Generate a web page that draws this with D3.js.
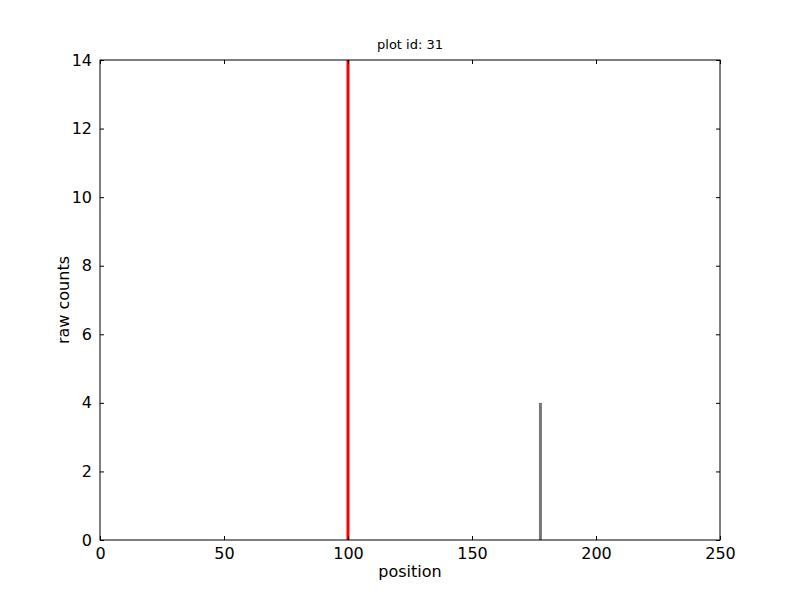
<!DOCTYPE html>
<html><head><meta charset="utf-8">
<script src="https://d3js.org/d3.v7.min.js"></script>
<style>body{margin:0;background:#fff}text{font-family:"DejaVu Sans",sans-serif}</style>
</head><body><svg id="c" width="800" height="600"></svg>
<script>
(function(){
const title = "plot id: 31";
const xTicks = [0, 50, 100, 150, 200, 250];
const yTicks = [0, 2, 4, 6, 8, 10, 12, 14];
const markerPos = [100];
const barPos = [177.6];
const barCounts = [4];

const svg = d3.select("#c");
const m = {l:100, r:720, t:60, b:540};
const x = d3.scaleLinear().domain([0,250]).range([m.l, m.r]);
const y = d3.scaleLinear().domain([0,14]).range([m.b, m.t]);

svg.append("rect").attr("width",800).attr("height",600).attr("fill","#fff");

svg.selectAll(".bar").data(barPos).enter().append("line")
  .attr("x1", d=>x(d)).attr("x2", d=>x(d))
  .attr("y1", y(0)).attr("y2", (d,i)=>y(barCounts[i]))
  .attr("stroke","#777").attr("stroke-width",3);

svg.selectAll(".mk").data(markerPos).enter().append("line")
  .attr("x1", d=>x(d)).attr("x2", d=>x(d))
  .attr("y1", y(0)).attr("y2", y(14))
  .attr("stroke","#ff0000").attr("stroke-width",3);

const fs = 16;
const gB = svg.append("g").attr("transform",`translate(0,${m.b})`)
  .call(d3.axisBottom(x).tickValues(xTicks).tickSize(-4).tickPadding(8).tickFormat(d3.format("d")));
const gT = svg.append("g").attr("transform",`translate(0,${m.t})`)
  .call(d3.axisTop(x).tickValues(xTicks).tickSize(-4).tickFormat(""));
const gL = svg.append("g").attr("transform",`translate(${m.l},0)`)
  .call(d3.axisLeft(y).tickValues(yTicks).tickSize(-4).tickPadding(8).tickFormat(d3.format("d")));
const gR = svg.append("g").attr("transform",`translate(${m.r},0)`)
  .call(d3.axisRight(y).tickValues(yTicks).tickSize(-4).tickFormat(""));
[gB, gT, gL, gR].forEach(g=>{
  g.select(".domain").remove();
  g.selectAll("line").attr("stroke","#000");
  g.selectAll("text").attr("font-size",fs).attr("fill","#000").attr("font-family","DejaVu Sans");
});

svg.append("rect").attr("x",m.l).attr("y",m.t).attr("width",m.r-m.l).attr("height",m.b-m.t)
  .attr("fill","none").attr("stroke","#000").attr("stroke-width",1);

svg.append("text").attr("x",(m.l+m.r)/2).attr("y",49).attr("text-anchor","middle")
  .attr("font-size",13).text(title);
svg.append("text").attr("x",(m.l+m.r)/2).attr("y",577).attr("text-anchor","middle")
  .attr("font-size",16).text("position");
svg.append("text").attr("transform",`translate(69,${(m.t+m.b)/2}) rotate(-90)`).attr("text-anchor","middle")
  .attr("font-size",16).text("raw counts");
})();
</script></body></html>
